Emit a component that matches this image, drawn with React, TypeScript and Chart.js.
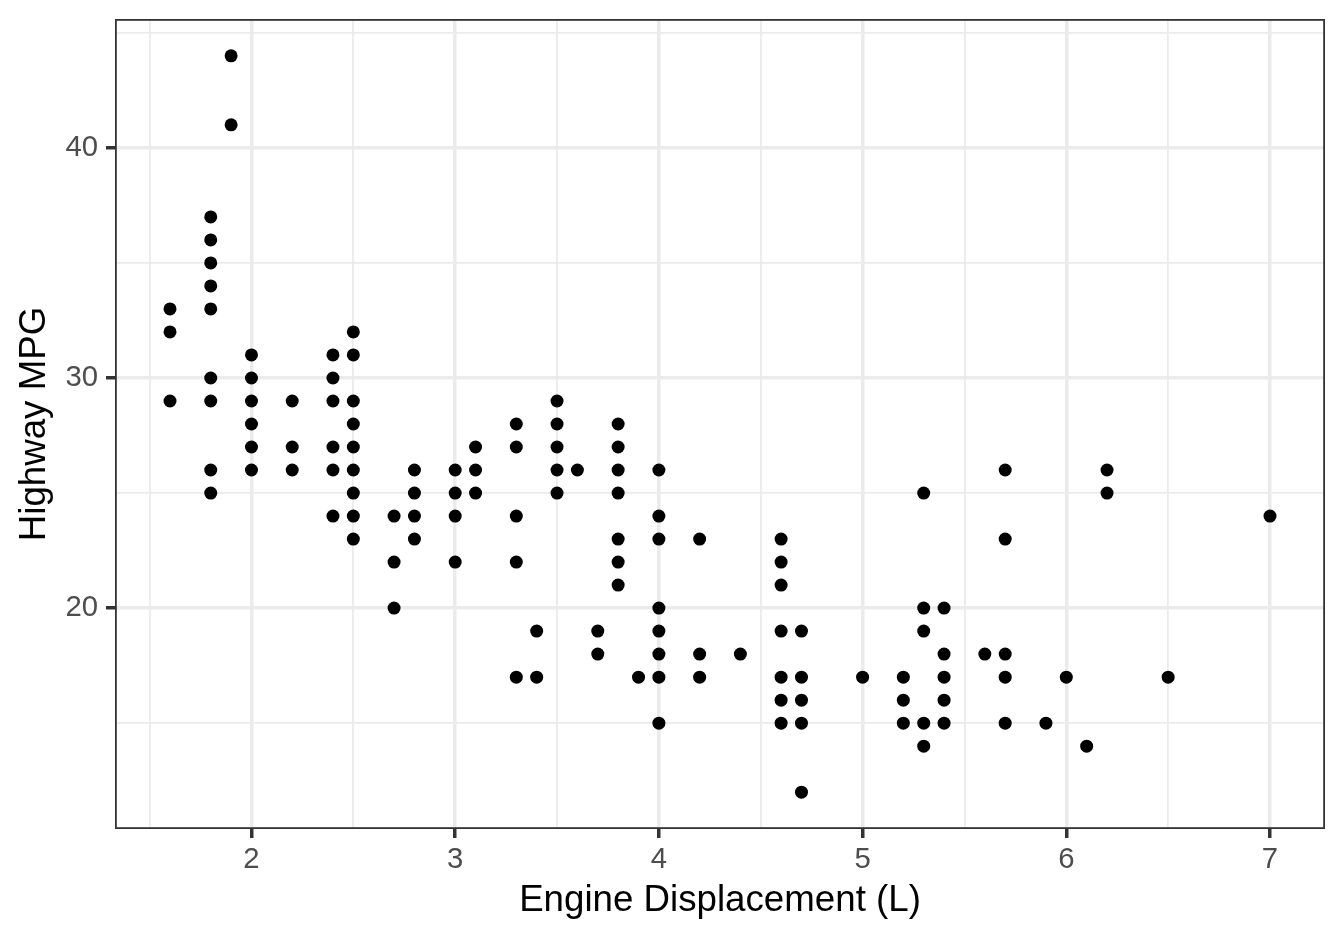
import { useEffect, useRef } from "react";
import { Chart, registerables } from "chart.js";

Chart.register(...registerables);

// Engine displacement (L) and highway MPG, one entry per visible point
const displacement = [
  1.6, 1.6, 1.6,
  1.8, 1.8, 1.8, 1.8, 1.8, 1.8, 1.8, 1.8, 1.8,
  1.9, 1.9,
  2.0, 2.0, 2.0, 2.0, 2.0, 2.0,
  2.2, 2.2, 2.2,
  2.4, 2.4, 2.4, 2.4, 2.4, 2.4,
  2.5, 2.5, 2.5, 2.5, 2.5, 2.5, 2.5, 2.5, 2.5,
  2.7, 2.7, 2.7,
  2.8, 2.8, 2.8, 2.8,
  3.0, 3.0, 3.0, 3.0,
  3.1, 3.1, 3.1,
  3.3, 3.3, 3.3, 3.3, 3.3,
  3.4, 3.4,
  3.5, 3.5, 3.5, 3.5, 3.5,
  3.6,
  3.7, 3.7,
  3.8, 3.8, 3.8, 3.8, 3.8, 3.8, 3.8,
  3.9,
  4.0, 4.0, 4.0, 4.0, 4.0, 4.0, 4.0, 4.0,
  4.2, 4.2, 4.2,
  4.4,
  4.6, 4.6, 4.6, 4.6, 4.6, 4.6, 4.6,
  4.7, 4.7, 4.7, 4.7, 4.7,
  5.0,
  5.2, 5.2, 5.2,
  5.3, 5.3, 5.3, 5.3, 5.3,
  5.4, 5.4, 5.4, 5.4, 5.4,
  5.6,
  5.7, 5.7, 5.7, 5.7, 5.7,
  5.9,
  6.0,
  6.1,
  6.2, 6.2,
  6.5,
  7.0,
];

const highwayMpg = [
  33, 32, 29,
  37, 36, 35, 34, 33, 30, 29, 26, 25,
  44, 41,
  31, 30, 29, 28, 27, 26,
  29, 27, 26,
  31, 30, 29, 27, 26, 24,
  32, 31, 29, 28, 27, 26, 25, 24, 23,
  24, 22, 20,
  26, 25, 24, 23,
  26, 25, 24, 22,
  27, 26, 25,
  28, 27, 24, 22, 17,
  19, 17,
  29, 28, 27, 26, 25,
  26,
  19, 18,
  28, 27, 26, 25, 23, 22, 21,
  17,
  26, 24, 23, 20, 19, 18, 17, 15,
  23, 18, 17,
  18,
  23, 22, 21, 19, 17, 16, 15,
  19, 17, 16, 15, 12,
  17,
  17, 16, 15,
  25, 20, 19, 15, 14,
  20, 18, 17, 16, 15,
  18,
  26, 23, 18, 17, 15,
  15,
  17,
  14,
  26, 25,
  17,
  24,
];

const xMajorTicks = [2, 3, 4, 5, 6, 7];
const xMinorTicks = [1.5, 2.5, 3.5, 4.5, 5.5, 6.5];
const yMajorTicks = [20, 30, 40];
const yMinorTicks = [15, 25, 35, 45];
const xAxisTitle = "Engine Displacement (L)";
const yAxisTitle = "Highway MPG";

const FONT = "'Liberation Sans', Arial, Helvetica, sans-serif";

const panelBorder = {
  id: "panelBorder",
  afterDatasetsDraw(chart: any) {
    const { ctx, chartArea } = chart;
    const { left, top, right, bottom } = chartArea;
    ctx.save();
    ctx.strokeStyle = "#333333";
    ctx.lineWidth = 1.8;
    ctx.strokeRect(left + 0.9, top + 0.9, right - left - 1.8, bottom - top - 1.8);
    ctx.restore();
  },
};

function isIn(list: number[], v: number) {
  return list.some((t) => Math.abs(t - v) < 1e-9);
}

function zeroPadding(scale: any) {
  scale.paddingTop = 0;
  scale.paddingBottom = 0;
  scale.paddingLeft = 0;
  scale.paddingRight = 0;
}

export default function App() {
  const canvasRef = useRef<HTMLCanvasElement | null>(null);

  useEffect(() => {
    document.body.style.margin = "0";
    const canvas = canvasRef.current;
    if (!canvas) return;
    const points = displacement.map((x, i) => ({ x, y: highwayMpg[i] }));
    const xAll = [...xMinorTicks, ...xMajorTicks].sort((a, b) => a - b);
    const yAll = [...yMinorTicks, ...yMajorTicks].sort((a, b) => a - b);

    const chart = new Chart(canvas, {
      type: "scatter",
      data: {
        datasets: [
          {
            data: points,
            backgroundColor: "#000000",
            borderWidth: 0,
            pointRadius: 6.5,
            pointHoverRadius: 6.5,
          },
        ],
      },
      options: {
        animation: false,
        responsive: false,
        devicePixelRatio: 1,
        layout: { padding: { left: 0, top: 19, right: 19, bottom: 0 } },
        plugins: {
          legend: { display: false },
          tooltip: { enabled: false },
        },
        scales: {
          x: {
            type: "linear",
            min: 1.33,
            max: 7.27,
            afterBuildTicks: (scale: any) => {
              scale.ticks = xAll.map((v) => ({ value: v }));
            },
            afterFit: (scale: any) => {
              scale.height = 111;
              zeroPadding(scale);
            },
            border: { display: false },
            grid: {
              color: "#EBEBEB",
              lineWidth: (ctx: any) => (ctx.tick && isIn(xMajorTicks, ctx.tick.value) ? 3.5 : 1.8),
              drawTicks: true,
              tickLength: 9,
              tickWidth: 3.5,
              tickColor: (ctx: any) =>
                ctx.tick && isIn(xMajorTicks, ctx.tick.value) ? "#333333" : "rgba(0,0,0,0)",
            },
            ticks: {
              autoSkip: false,
              maxRotation: 0,
              padding: 4,
              color: "#4D4D4D",
              font: { family: FONT, size: 29.3 },
              callback: (v: any) => (isIn(xMajorTicks, Number(v)) ? String(v) : ""),
            },
            title: {
              display: true,
              text: xAxisTitle,
              color: "#000000",
              font: { family: FONT, size: 36.7 },
              padding: { top: 0, bottom: 17 },
            },
          },
          y: {
            type: "linear",
            min: 10.4,
            max: 45.6,
            afterBuildTicks: (scale: any) => {
              scale.ticks = yAll.map((v) => ({ value: v }));
            },
            afterFit: (scale: any) => {
              scale.width = 115;
              zeroPadding(scale);
            },
            border: { display: false },
            grid: {
              color: "#EBEBEB",
              lineWidth: (ctx: any) => (ctx.tick && isIn(yMajorTicks, ctx.tick.value) ? 3.5 : 1.8),
              drawTicks: true,
              tickLength: 9,
              tickWidth: 3.5,
              tickColor: (ctx: any) =>
                ctx.tick && isIn(yMajorTicks, ctx.tick.value) ? "#333333" : "rgba(0,0,0,0)",
            },
            ticks: {
              autoSkip: false,
              padding: 8,
              color: "#4D4D4D",
              font: { family: FONT, size: 29.3 },
              callback: (v: any) => (isIn(yMajorTicks, Number(v)) ? String(v) : ""),
            },
            title: {
              display: true,
              text: yAxisTitle,
              color: "#000000",
              font: { family: FONT, size: 36.7 },
              padding: { top: 12.5, bottom: 0 },
            },
          },
        },
      },
      plugins: [panelBorder],
    });

    return () => chart.destroy();
  }, []);

  return (
    <canvas
      ref={canvasRef}
      width={1344}
      height={940}
      style={{ position: "fixed", left: 0, top: 0, width: 1344, height: 940, background: "#ffffff" }}
    />
  );
}
